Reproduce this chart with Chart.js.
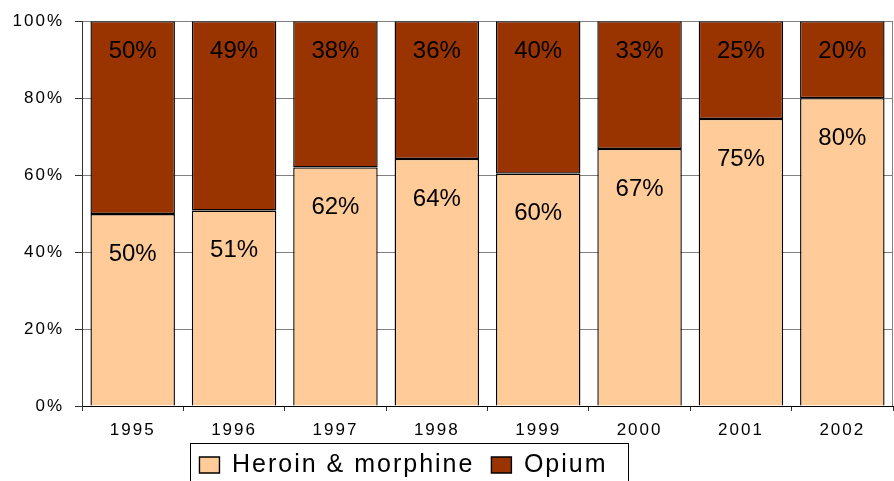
<!DOCTYPE html>
<html><head><meta charset="utf-8">
<script src="https://cdn.jsdelivr.net/npm/chart.js@4/dist/chart.umd.min.js"></script>
<style>html,body{margin:0;padding:0;background:#fff;overflow:hidden}</style>
</head><body>
<canvas id="c" width="894" height="481" style="display:block;width:894px;height:481px"></canvas>
<script>
const years = ['1995','1996','1997','1998','1999','2000','2001','2002'];
const heroinMorphine = [49.9, 50.8, 62, 64.2, 60.4, 66.8, 74.6, 80];
const opium = [50.1, 49.2, 38, 35.8, 39.6, 33.2, 25.4, 20];
const yTicks = [0, 20, 40, 60, 80, 100];
const seriesNames = ['Heroin & morphine', 'Opium'];

const FONT = '"Liberation Sans", Arial, sans-serif';
const labelOffsets = [40, 30];

const decor = {
  id: 'decor',
  beforeUpdate(chart) { chart.ctx.letterSpacing = '2px'; },
  beforeDraw(chart) { chart.ctx.letterSpacing = '2px'; },
  afterLayout(chart) {
    const lg = chart.legend;
    const h = lg.bottom - lg.top;
    lg.top = 465 - 17 - 12.5;
    lg.bottom = lg.top + h;
    lg.left -= 43; lg.right -= 43;
  },
  beforeDatasetsDraw(chart) {
    const {ctx, chartArea: a} = chart;
    ctx.save();
    ctx.strokeStyle = '#808080'; ctx.lineWidth = 1;
    ctx.beginPath(); ctx.moveTo(a.right - 0.5, a.top); ctx.lineTo(a.right - 0.5, a.bottom); ctx.stroke();
    ctx.restore();
  },
  afterDatasetsDraw(chart) {
    const ctx = chart.ctx;
    ctx.save();
    ctx.letterSpacing = '0px';
    ctx.font = '24px ' + FONT;
    ctx.fillStyle = '#000'; ctx.textAlign = 'center'; ctx.textBaseline = 'middle';
    chart.data.datasets.forEach((ds, di) => {
      const meta = chart.getDatasetMeta(di);
      meta.data.forEach((bar, i) => {
        const top = Math.min(bar.y, bar.base);
        ctx.fillText(Math.round(ds.data[i]) + '%', bar.x, top + labelOffsets[di]);
      });
    });
    ctx.restore();
  },
  afterDraw(chart) {
    const hb = chart.legend.legendHitBoxes;
    if (!hb || !hb.length) return;
    const ctx = chart.ctx;
    const first = hb[0], last = hb[hb.length - 1];
    const cy = first.top + first.height / 2;
    ctx.save();
    ctx.strokeStyle = '#000'; ctx.lineWidth = 1;
    const x0 = Math.round(first.left - 9) + 0.5;
    const x1 = Math.round(last.left + last.width + 20) + 0.5;
    const y0 = Math.round(cy - 22) + 0.5;
    ctx.strokeRect(x0, y0, x1 - x0, 60);
    ctx.restore();
  }
};

new Chart(document.getElementById('c'), {
  type: 'bar',
  data: {
    labels: years,
    datasets: [
      { label: seriesNames[0], data: heroinMorphine, backgroundColor: '#FFCC99', borderColor: '#000', borderWidth: 1.4, borderSkipped: 'start' },
      { label: seriesNames[1], data: opium, backgroundColor: '#993300', borderColor: '#000', borderWidth: 1.4, borderSkipped: false }
    ]
  },
  options: {
    responsive: false,
    animation: false,
    devicePixelRatio: 1,
    layout: { padding: { top: 20, right: 1, bottom: -14, left: 0 } },
    datasets: { bar: { barPercentage: 1 / 1.2, categoryPercentage: 1 } },
    scales: {
      x: {
        stacked: true,
        grid: { display: true, drawOnChartArea: false, drawTicks: true, tickLength: 5, color: '#333', offset: true },
        border: { color: '#000', width: 1 },
        ticks: { color: '#000', font: { family: FONT, size: 17 }, padding: 9, maxRotation: 0 },
        afterFit(s) { s.height = 37; }
      },
      y: {
        stacked: true, min: 0, max: 100,
        afterBuildTicks(s) { s.ticks = yTicks.map(v => ({ value: v })); },
        grid: { color: '#808080', lineWidth: 1, drawTicks: true, tickLength: 7, tickColor: '#333' },
        border: { color: '#333', width: 1 },
        ticks: { color: '#000', font: { family: FONT, size: 17 }, padding: 11, callback: v => v + '%' },
        afterFit(s) { s.width = 82; }
      }
    },
    plugins: {
      tooltip: { enabled: false },
      legend: {
        position: 'bottom',
        labels: { color: '#000', font: { family: FONT, size: 25 }, boxWidth: 20, boxHeight: 16, padding: 17 }
      }
    }
  },
  plugins: [decor]
});
</script>
</body></html>
